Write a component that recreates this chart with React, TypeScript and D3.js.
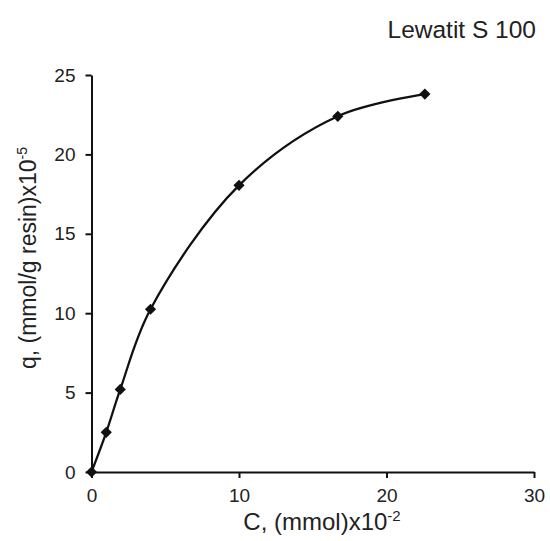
import { useEffect, useRef } from "react";
import * as d3 from "d3";

// Isotherm points
const concentration = [0, 1, 1.95, 4, 10, 16.7, 22.6];
const uptake = [0, 2.5, 5.2, 10.25, 18.05, 22.4, 23.8];

const xTicks = [0, 10, 20, 30];
const yTicks = [0, 5, 10, 15, 20, 25];

export default function App() {
    const svgRef = useRef<SVGSVGElement | null>(null);

    useEffect(() => {
        const width = 550;
        const height = 541;
        const font = "Liberation Sans, Arial, Helvetica, sans-serif";

        const svg = d3.select(svgRef.current)
            .attr("width", width)
            .attr("height", height)
            .style("display", "block")
            .style("background", "#fff");
        svg.selectAll("*").remove();

        // Set up scales
        const x = d3.scaleLinear().domain([0, 30]).range([91.5, 534]);
        const y = d3.scaleLinear().domain([0, 25]).range([472, 75]);

        const data = concentration.map((c, i) => ({ c, q: uptake[i] }));

        // x-axis
        svg.append("g")
            .attr("transform", `translate(0,${y(0)})`)
            .call(d3.axisBottom(x).tickValues(xTicks).tickSize(6).tickSizeOuter(0).tickPadding(11))
            .call(g => g.select(".domain").attr("stroke", "#111").attr("stroke-width", 2))
            .call(g => g.selectAll(".tick line").attr("stroke", "#111").attr("stroke-width", 2))
            .call(g => g.selectAll(".tick text")
                .attr("fill", "#222")
                .style("font-family", font)
                .style("font-size", "19px"));

        // y-axis
        svg.append("g")
            .attr("transform", `translate(${x(0)},0)`)
            .call(d3.axisLeft(y).tickValues(yTicks).tickSize(6).tickSizeOuter(0).tickPadding(10))
            .call(g => g.select(".domain").attr("stroke", "#111").attr("stroke-width", 2))
            .call(g => g.selectAll(".tick line").attr("stroke", "#111").attr("stroke-width", 2))
            .call(g => g.selectAll(".tick text")
                .attr("fill", "#222")
                .style("font-family", font)
                .style("font-size", "19px"));

        // Smoothed line
        const line = d3.line<{ c: number; q: number }>()
            .x(d => x(d.c))
            .y(d => y(d.q))
            .curve(d3.curveCatmullRom.alpha(0.5));

        svg.append("path")
            .attr("fill", "none")
            .attr("stroke", "#111")
            .attr("stroke-width", 2.3)
            .attr("d", line(data));

        // Diamond markers
        const diamond = d3.symbol().type(d3.symbolDiamond2).size(80);
        svg.selectAll(".pt")
            .data(data)
            .enter()
            .append("path")
            .attr("class", "pt")
            .attr("transform", d => `translate(${x(d.c)},${y(d.q)})`)
            .attr("d", diamond)
            .attr("fill", "#111");

        // Title
        svg.append("text")
            .attr("x", 536)
            .attr("y", 38)
            .attr("text-anchor", "end")
            .attr("fill", "#222")
            .style("font-family", font)
            .style("font-size", "24.5px")
            .text("Lewatit S 100");

        // x label
        const xl = svg.append("text")
            .attr("x", 322)
            .attr("y", 530)
            .attr("text-anchor", "middle")
            .attr("fill", "#222")
            .style("font-family", font)
            .style("font-size", "24px");
        xl.append("tspan").text("C, (mmol)x10");
        xl.append("tspan").attr("dy", -9).style("font-size", "15px").text("-2");

        // y label
        const yl = svg.append("text")
            .attr("transform", "translate(36,258) rotate(-90)")
            .attr("text-anchor", "middle")
            .attr("fill", "#222")
            .style("font-family", font)
            .style("font-size", "23px");
        yl.append("tspan").text("q, (mmol/g resin)x10");
        yl.append("tspan").attr("dy", -9).style("font-size", "14px").text("-5");
    }, []);

    return <svg ref={svgRef} style={{ position: "absolute", left: 0, top: 0 }} />;
}
